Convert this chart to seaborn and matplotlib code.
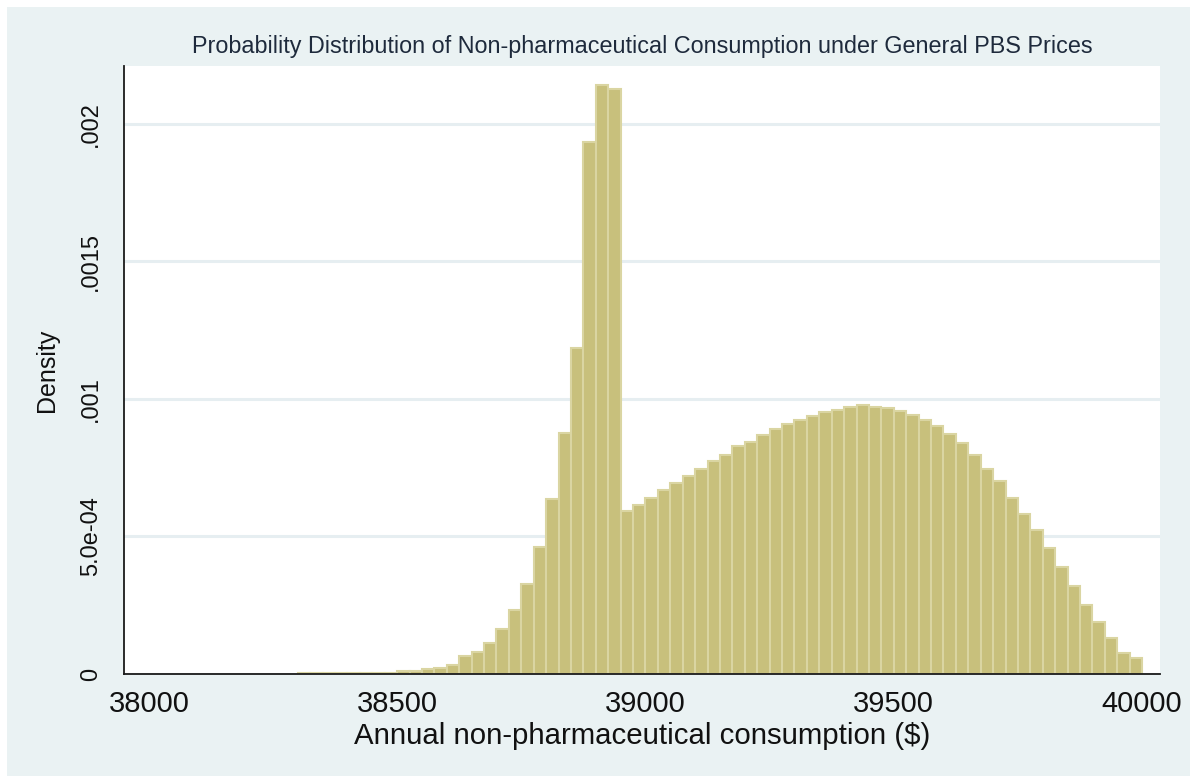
import numpy as np
import pandas as pd
import matplotlib
matplotlib.use("Agg")
import matplotlib.pyplot as plt
from matplotlib.patches import Rectangle
import seaborn as sns

# ---- data (bin width 25, 38300..40000) ----
bin_start = 38300
bin_width = 25
density = [
    0.0000045, 0.0000045, 0.0000045, 0.0000045, 0.0000045, 0.0000045, 0.0000045, 0.0000045,
    0.000010, 0.000010, 0.000017, 0.000021, 0.000034,
    0.000067, 0.000079, 0.000114, 0.000165, 0.000234, 0.000328, 0.000463,
    0.000636, 0.000876, 0.001184, 0.001932, 0.002140, 0.002126,
    0.000592, 0.000615, 0.000641, 0.000669, 0.000693, 0.000720, 0.000746,
    0.000775, 0.000797, 0.000827, 0.000845, 0.000870, 0.000892, 0.000907,
    0.000924, 0.000937, 0.000953, 0.000961, 0.000970, 0.000976, 0.000970,
    0.000967, 0.000955, 0.000943, 0.000925, 0.000903, 0.000873, 0.000838,
    0.000797, 0.000745, 0.000700, 0.000639, 0.000582, 0.000523, 0.000459,
    0.000389, 0.000319, 0.000252, 0.000189, 0.000131, 0.000078, 0.000057,
]
x_ticks = [38000, 38500, 39000, 39500, 40000]
x_tick_labels = ["38000", "38500", "39000", "39500", "40000"]
y_ticks = [0, 0.0005, 0.001, 0.0015, 0.002]
y_tick_labels = ["0", "5.0e-04", ".001", ".0015", ".002"]
title = "Probability Distribution of Non-pharmaceutical Consumption under General PBS Prices"
x_label = "Annual non-pharmaceutical consumption ($)"
y_label = "Density"

n_bins = len(density)
bin_end = bin_start + bin_width * n_bins
bin_centers = bin_start + bin_width * (np.arange(n_bins) + 0.5)
df = pd.DataFrame({"consumption": bin_centers, "density": density})

# ---- style ----
sns.set_style("white")
plt.rcParams["font.family"] = ["Liberation Sans", "DejaVu Sans"]

W, H = 1190, 776
fig = plt.figure(figsize=(W / 100, H / 100), dpi=100, facecolor="white")
# Stata-like light bluish graph region (white strip at top/left as in screenshot)
fig.patches.append(Rectangle((7 / W, 0), 1 - 7 / W, 1 - 7 / H, transform=fig.transFigure,
                             facecolor="#eaf2f3", edgecolor="none", zorder=-10))

left, right, top, bottom = 124, 1160, 66, 674
ax = fig.add_axes([left / W, 1 - bottom / H, (right - left) / W, (bottom - top) / H])
ax.set_facecolor("white")

sns.histplot(data=df, x="consumption", weights="density",
             binwidth=bin_width, binrange=(bin_start, bin_end), stat="count",
             color="#c8c07c", edgecolor="#dad5a2", linewidth=1.5, alpha=1, ax=ax)

ax.set_xlim(37950, 40036)
ax.set_ylim(0, 0.00221)

ax.set_axisbelow(True)
ax.yaxis.grid(True, color="#e6eef1", linewidth=2.2)
ax.xaxis.grid(False)

ax.set_xticks(x_ticks)
ax.set_xticklabels(x_tick_labels, fontsize=21)
ax.set_yticks(y_ticks)
ax.set_yticklabels(y_tick_labels, fontsize=17, rotation=90, va="center")
ax.tick_params(axis="both", direction="out", length=8.5, width=1.3, color="#1a1a1a",
               labelcolor="#111111")
ax.tick_params(axis="y", pad=7.5)
ax.tick_params(axis="x", pad=3)

for s in ["top", "right"]:
    ax.spines[s].set_visible(False)
for s in ["left", "bottom"]:
    ax.spines[s].set_color("#1a1a1a")
    ax.spines[s].set_linewidth(1.3)

ax.set_xlabel("")
ax.set_ylabel("")
fig.text((left + right) / 2 / W, 1 - 736 / H, x_label, ha="center", va="center",
         fontsize=21.2, color="#111111")
fig.text(47 / W, 1 - 370 / H, y_label, rotation=90, ha="center", va="center",
         fontsize=18, color="#111111")
fig.text((left + right) / 2 / W, 1 - 47 / H, title, ha="center", va="center",
         fontsize=16.8, color="#1e2a3c")

fig.savefig("out.png", dpi=100, facecolor=fig.get_facecolor())
